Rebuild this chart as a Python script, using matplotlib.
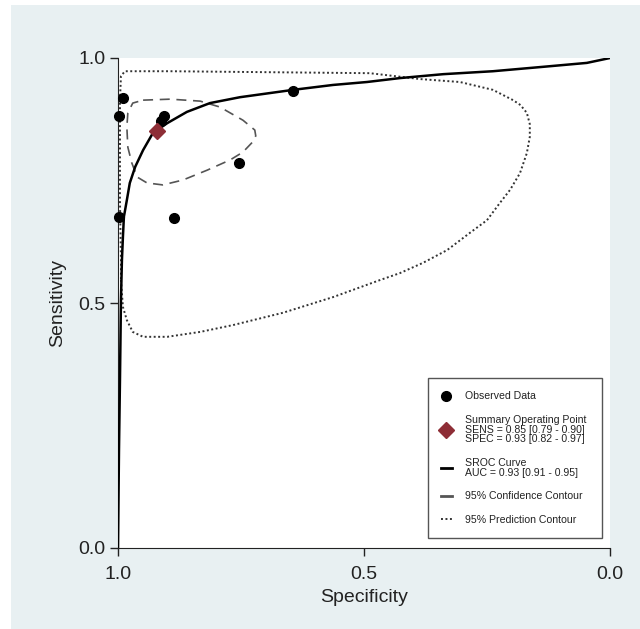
import numpy as np
import matplotlib.pyplot as plt
from matplotlib.lines import Line2D
from matplotlib.patches import Rectangle

# observed studies (specificity, sensitivity)
obs_spec = [0.989, 0.997, 0.907, 0.913, 0.755, 0.997, 0.886, 0.644]
obs_sens = [0.918, 0.882, 0.882, 0.872, 0.785, 0.676, 0.673, 0.933]

# summary operating point
sum_spec = 0.921
sum_sens = 0.851

# SROC curve
sroc_spec = [1.0, 0.998, 0.996, 0.994, 0.992, 0.990, 0.988, 0.982, 0.976, 0.965,
             0.949, 0.929, 0.900, 0.860, 0.813, 0.752, 0.644, 0.563, 0.494, 0.427,
             0.339, 0.238, 0.136, 0.047, 0.0]
sroc_sens = [0.0, 0.200, 0.343, 0.506, 0.588, 0.635, 0.676, 0.710, 0.745, 0.778,
             0.812, 0.847, 0.867, 0.890, 0.908, 0.920, 0.935, 0.945, 0.951, 0.959,
             0.967, 0.973, 0.982, 0.990, 1.0]

# 95% confidence contour
conf_spec = [0.949, 0.894, 0.833, 0.793, 0.746, 0.722, 0.720, 0.726, 0.746, 0.772,
             0.819, 0.868, 0.909, 0.941, 0.961, 0.972, 0.980, 0.982, 0.980, 0.970, 0.949]
conf_sens = [0.914, 0.916, 0.912, 0.900, 0.873, 0.853, 0.841, 0.829, 0.808, 0.792,
             0.771, 0.751, 0.741, 0.745, 0.757, 0.786, 0.818, 0.859, 0.888, 0.908, 0.914]

# 95% prediction contour
pred_spec = [0.994, 0.990, 0.982, 0.970, 0.949, 0.900, 0.833, 0.766, 0.665, 0.563,
             0.467, 0.427, 0.380, 0.331, 0.285, 0.250, 0.224, 0.203, 0.183, 0.169,
             0.163, 0.163, 0.169, 0.182, 0.197, 0.238, 0.305, 0.386, 0.488, 0.691,
             0.894, 0.986, 0.994, 0.996, 0.996, 0.994, 0.994]
pred_sens = [0.547, 0.492, 0.465, 0.441, 0.431, 0.431, 0.441, 0.455, 0.480, 0.512,
             0.547, 0.561, 0.582, 0.608, 0.643, 0.669, 0.704, 0.731, 0.765, 0.806,
             0.839, 0.865, 0.888, 0.904, 0.914, 0.935, 0.951, 0.957, 0.969, 0.971,
             0.973, 0.973, 0.963, 0.914, 0.710, 0.588, 0.547]

ticks = [0.0, 0.5, 1.0]
tick_labels = ['0.0', '0.5', '1.0']

plt.rcParams['font.family'] = ['Liberation Sans', 'DejaVu Sans']

fig = plt.figure(figsize=(6.40, 6.29), dpi=100)
fig.patch.set_facecolor('white')
bg = Rectangle((11/640, 0), 1 - 11/640, 1 - 5/629, transform=fig.transFigure,
               facecolor='#e8f0f2', edgecolor='none', zorder=-10)
fig.add_artist(bg)

ax = fig.add_axes([118/640, 81/629, 492/640, 490/629])
ax.set_facecolor('white')

ax.plot(pred_spec, pred_sens, color='#333333', ls=(0, (1, 1.3)), lw=1.4, zorder=2)
ax.plot(conf_spec, conf_sens, color='#555555', ls=(0, (6, 4)), lw=1.2, zorder=2)
ax.plot(sroc_spec, sroc_sens, color='black', lw=1.8, zorder=3)
ax.plot(obs_spec, obs_sens, 'o', color='black', ms=7, zorder=4, clip_on=False)
ax.plot([sum_spec], [sum_sens], 'D', color='#8e2e36', ms=8, zorder=5)

ax.set_xlim(1.0, 0.0)
ax.set_ylim(0.0, 1.0)
ax.set_xticks(ticks)
ax.set_xticklabels(tick_labels)
ax.set_yticks(ticks)
ax.set_yticklabels(tick_labels)
ax.tick_params(labelsize=14, length=6, width=1, colors='#222222')
ax.tick_params(axis='x', pad=7)
ax.tick_params(axis='y', pad=3)
ax.spines['top'].set_visible(False)
ax.spines['right'].set_visible(False)
ax.spines['left'].set_color('#222222')
ax.spines['bottom'].set_color('#222222')
ax.set_xlabel('Specificity', fontsize=14, color='#222222', labelpad=4)
ax.set_ylabel('Sensitivity', fontsize=14, color='#222222', labelpad=9)

handles = [
    Line2D([], [], ls='none', marker='o', color='black', ms=7),
    Line2D([], [], ls='none', marker='D', color='#8e2e36', ms=8),
    Line2D([], [], color='black', lw=2),
    Line2D([], [], color='#555555', lw=2),
    Line2D([], [], color='#333333', lw=1.4, ls=(0, (1, 1.3))),
]
labels = [
    'Observed Data',
    'Summary Operating Point\nSENS = 0.85 [0.79 - 0.90]\nSPEC = 0.93 [0.82 - 0.97]',
    'SROC Curve\nAUC = 0.93 [0.91 - 0.95]',
    '95% Confidence Contour',
    '95% Prediction Contour',
]
leg = ax.legend(handles, labels, loc='lower left', bbox_to_anchor=(0.630, 0.020, 0.354, 0.33),
                mode='expand', borderaxespad=0, fontsize=7.6, handlelength=1.0,
                handletextpad=1.3, labelspacing=1.3, borderpad=1.25, fancybox=False,
                framealpha=1, edgecolor='#555555')
leg.get_frame().set_linewidth(1.0)
for t in leg.get_texts():
    t.set_linespacing(0.95)
    t.set_color('#222222')

fig.savefig('out.png', dpi=100)
